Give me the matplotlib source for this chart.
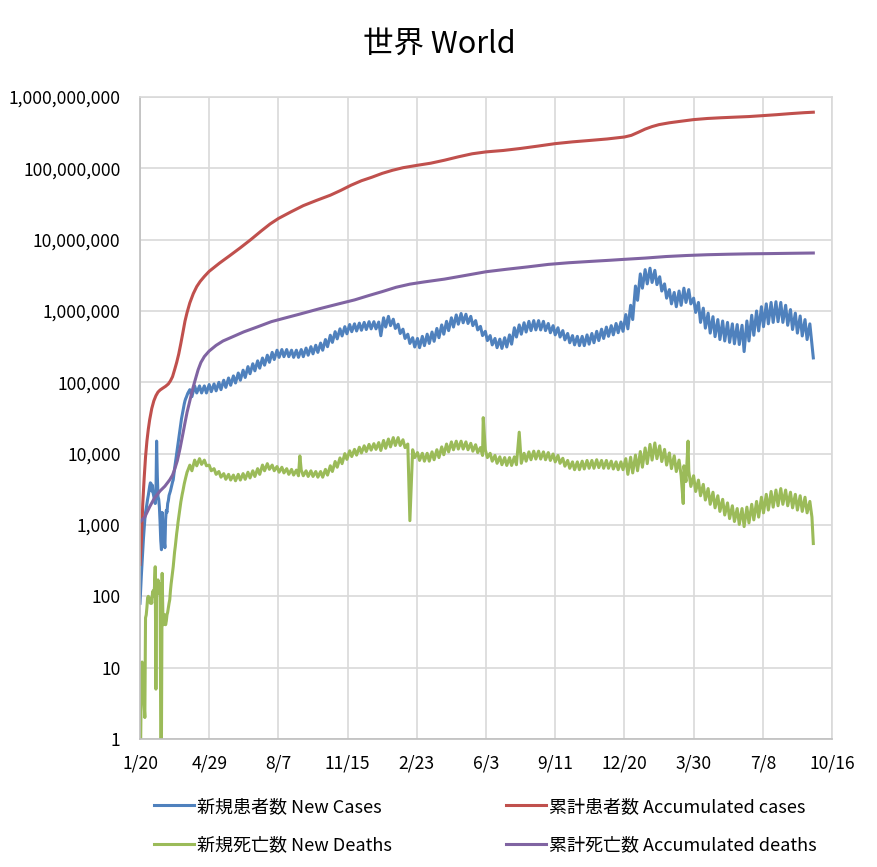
import numpy as np
import pandas as pd
import matplotlib
matplotlib.use("Agg")
import matplotlib.pyplot as plt
from matplotlib.ticker import FixedLocator, FuncFormatter, NullLocator

plt.rcParams['font.family'] = ['Noto Sans CJK JP', 'DejaVu Sans']

start = pd.Timestamp("2020-01-20")

# daily values for the first 70 days (1/20/2020 .. 3/29/2020)
early_cases = [80, 130, 200, 300, 450, 650, 900, 1200, 1500, 1700,
               2000, 2300, 2600, 3000, 3500, 3900, 3800, 3000, 3600, 2800,
               2500, 2200, 2000, 2500, 15000, 5000, 2500, 2300, 1800, 1100,
               600, 450, 1500, 900, 1000, 600, 480, 1200, 1600, 1500,
               2000, 2200, 2600, 2800, 3000, 3300, 3600, 4000, 4300, 5200,
               6200, 7300, 8500, 10000, 12000, 14000, 16500, 19500, 23000, 27000,
               31000, 35000, 40000, 45000, 50000, 55000, 59000, 62000, 66000, 70000]
early_deaths = [1, 1, 8, 12, 10, 6, 3, 2, 50, 55,
                70, 95, 100, 90, 85, 80, 95, 80, 110, 120,
                100, 140, 260, 5, 140, 120, 170, 110, 130, 150,
                1, 1, 210, 60, 40, 50, 55, 40, 45, 55,
                60, 70, 80, 90, 120, 150, 180, 220, 260, 330,
                420, 500, 620, 760, 900, 1100, 1300, 1550, 1800, 2100,
                2400, 2700, 3000, 3400, 3800, 4200, 4600, 5000, 5500, 5800]

# from 3/30/2020 on: one weekday high and one weekend low per week
weekly_start = pd.Timestamp("2020-03-30")
cases_hi = [79000, 89000, 89000, 89000, 93000, 95000, 100000, 107000, 115000, 123000,
            135000, 148000, 166000, 182000, 200000, 219000, 240000, 263000, 282000, 288000,
            288000, 282000, 282000, 288000, 302000, 316000, 331000, 355000, 398000, 457000,
            513000, 562000, 603000, 646000, 661000, 676000, 692000, 708000, 708000, 700000,
            803000, 841000, 767000, 653000, 556000, 473000, 422000, 412000, 441000, 473000,
            507000, 569000, 638000, 716000, 803000, 881000, 922000, 901000, 841000, 733000,
            609000, 519000, 452000, 412000, 403000, 422000, 462000, 582000, 638000, 684000,
            716000, 733000, 733000, 716000, 668000, 623000, 582000, 531000, 484000, 452000,
            441000, 441000, 462000, 484000, 519000, 556000, 595000, 623000, 668000, 700000,
            891000, 1202000, 2239000, 3311000, 3802000, 3981000, 3715000, 3020000, 2399000, 1995000,
            1820000, 1905000, 2089000, 1995000, 1514000, 1318000, 1096000, 933000, 832000, 758000,
            724000, 692000, 660000, 645000, 631000, 724000, 871000, 1000000, 1148000, 1259000,
            1318000, 1349000, 1318000, 1202000, 1047000, 933000, 851000, 758000, 660000]
cases_lo = [63000, 71000, 71000, 71000, 74000, 76000, 79000, 85000, 91000, 98000,
            107000, 117000, 132000, 145000, 158000, 174000, 191000, 209000, 224000, 229000,
            229000, 224000, 224000, 229000, 240000, 251000, 263000, 282000, 316000, 363000,
            407000, 447000, 479000, 513000, 525000, 537000, 550000, 562000, 562000, 450000,
            596000, 624000, 569000, 484000, 412000, 351000, 313000, 306000, 327000, 351000,
            376000, 422000, 473000, 531000, 596000, 653000, 684000, 669000, 624000, 543000,
            452000, 385000, 335000, 306000, 299000, 313000, 343000, 432000, 473000, 507000,
            531000, 543000, 543000, 531000, 496000, 463000, 432000, 394000, 359000, 335000,
            327000, 327000, 343000, 359000, 385000, 412000, 442000, 463000, 496000, 519000,
            562000, 759000, 1412000, 2089000, 2399000, 2512000, 2344000, 1905000, 1514000, 1259000,
            1148000, 1202000, 1318000, 1259000, 955000, 692000, 575000, 490000, 437000, 398000,
            380000, 363000, 347000, 339000, 270000, 380000, 457000, 525000, 603000, 661000,
            692000, 708000, 692000, 631000, 550000, 490000, 447000, 398000, 347000]
deaths_hi = [6900, 8120, 8510, 8120, 6900, 6160, 5620, 5250, 5130, 5010,
             5130, 5250, 5490, 5750, 6160, 6920, 7240, 6920, 6600, 6450,
             6160, 6020, 5890, 5890, 5750, 5750, 5620, 5620, 6020, 6760,
             7760, 8710, 10000, 10960, 11480, 12300, 12880, 13480, 13800, 14290,
             15310, 16040, 16790, 16790, 15660, 13640, 11350, 10350, 10120, 10120,
             10590, 11350, 12440, 13640, 14620, 14960, 14960, 14620, 13960, 13340,
             12170, 11350, 10120, 9440, 9020, 8810, 8810, 9020, 9440, 10120,
             10590, 10840, 10840, 10590, 10350, 9890, 9440, 8610, 8030, 7670,
             7670, 7850, 8030, 8030, 8220, 8030, 8030, 7850, 7670, 7670,
             8510, 8910, 9550, 10710, 12020, 13490, 14120, 12880, 11480, 10230,
             9330, 8130, 6760, 5750, 4900, 4260, 3710, 3240, 2880, 2570,
             2290, 2040, 1860, 1700, 1700, 1780, 1950, 2140, 2450, 2690,
             2950, 3090, 3240, 3090, 2880, 2690, 2570, 2450, 2140]
deaths_lo = [5760, 6760, 7080, 6760, 5760, 5130, 4680, 4370, 4270, 4170,
             4270, 4370, 4570, 4790, 5130, 5760, 6030, 5760, 5500, 5370,
             5130, 5010, 4900, 4900, 4790, 4790, 4680, 4680, 5010, 5630,
             6460, 7250, 8320, 9120, 9550, 10240, 10720, 11220, 11490, 11090,
             11890, 12450, 13030, 13030, 12160, 10590, 8810, 8040, 7850, 7850,
             8220, 8810, 9660, 10590, 11350, 11610, 11610, 11350, 10840, 10350,
             9440, 8810, 7850, 7330, 7000, 6840, 6840, 7000, 7330, 7850,
             8220, 8410, 8410, 8220, 8040, 7670, 7330, 6680, 6240, 5960,
             5960, 6100, 6240, 6240, 6380, 6240, 6240, 6100, 5960, 5960,
             5130, 5370, 5760, 6460, 7250, 8130, 8510, 7760, 6920, 6170,
             5620, 4900, 4070, 3470, 2950, 2570, 2240, 1950, 1740, 1550,
             1380, 1230, 1120, 1020, 950, 1070, 1180, 1290, 1480, 1620,
             1780, 1860, 1950, 1860, 1740, 1620, 1550, 1480, 1290]

last_date = pd.Timestamp("2022-09-19")
last_cases = 220000
last_deaths = 550

# one-day spikes / dips in reported deaths (days after 1/20/2020)
death_spike_days = [231, 390, 496, 548, 785, 792]
death_spike_vals = [9300, 1150, 32000, 20000, 2000, 15000]

# cumulative totals (days after 1/20/2020)
cum_cases_days = [0, 2, 4, 6, 8, 10, 12, 14, 17, 20, 23, 26, 29, 33, 37, 41, 44, 47, 50, 53,
                  56, 59, 62, 65, 68, 72, 77, 82, 87, 93, 100, 115, 130, 145, 160, 175, 188, 200, 218, 236,
                  255, 275, 290, 305, 320, 335, 350, 365, 380, 400, 420, 440, 460, 480, 500, 525, 550, 575, 600, 625,
                  650, 675, 700, 710, 720, 730, 740, 750, 765, 780, 800, 820, 840, 860, 880, 900, 920, 940, 960, 973]
cum_cases = [280, 600, 2000, 4500, 9000, 15000, 22000, 30000, 43000, 55000,
             65000, 73000, 78000, 83000, 88000, 95000, 105000, 120000, 150000, 190000,
             250000, 350000, 500000, 720000, 950000, 1300000, 1750000, 2200000, 2600000, 3050000,
             3600000, 4700000, 6000000, 7700000, 10000000, 13200000, 16600000, 19800000, 24500000, 30000000,
             35500000, 42000000, 49000000, 58000000, 67000000, 75000000, 85000000, 94000000, 102000000, 110000000,
             118000000, 130000000, 145000000, 160000000, 170000000, 178000000, 190000000, 205000000, 222000000, 235000000,
             246000000, 258000000, 275000000, 290000000, 320000000, 355000000, 385000000, 410000000, 435000000, 455000000,
             482000000, 500000000, 512000000, 522000000, 532000000, 548000000, 565000000, 585000000, 603000000, 612000000]
cum_deaths_days = [0, 7, 14, 21, 29, 36, 43, 47, 50, 54, 58, 62, 65, 68, 72, 76, 80, 84, 88, 93,
                   100, 110, 120, 135, 150, 170, 190, 210, 230, 260, 290, 310, 330, 350, 370, 390, 410, 440, 470, 500,
                   530, 560, 590, 620, 650, 680, 700, 730, 760, 790, 820, 850, 880, 910, 940, 973]
cum_deaths = [1100, 1300, 1800, 2400, 3000, 3500, 4300, 5000, 6000, 8000,
              12000, 19000, 27000, 38000, 55000, 80000, 110000, 150000, 190000, 230000,
              275000, 330000, 380000, 440000, 510000, 600000, 710000, 800000, 900000, 1080000,
              1280000, 1430000, 1640000, 1870000, 2150000, 2380000, 2550000, 2800000, 3150000, 3550000,
              3850000, 4150000, 4500000, 4750000, 4950000, 5150000, 5300000, 5520000, 5800000, 6000000,
              6150000, 6250000, 6330000, 6380000, 6440000, 6500000]

labels = ["新規患者数 New Cases", "累計患者数 Accumulated cases",
          "新規死亡数 New Deaths", "累計死亡数 Accumulated deaths"]
colors = ["#4F81BD", "#C0504D", "#9BBB59", "#8064A2"]


def daily_series(early, hi, lo, last, spike_days=(), spike_vals=()):
    s = pd.Series(early, index=pd.date_range(start, periods=len(early)), dtype=float)
    wk = pd.date_range(weekly_start, periods=len(hi), freq="7D")
    parts = [s,
             pd.Series(hi, index=wk + pd.Timedelta(days=2), dtype=float),
             pd.Series(lo, index=wk + pd.Timedelta(days=5), dtype=float),
             pd.Series([last], index=[last_date], dtype=float)]
    s = pd.concat(parts)
    for d, v in zip(spike_days, spike_vals):
        s.loc[start + pd.Timedelta(days=d)] = v
    return s.sort_index()


new_cases = daily_series(early_cases, cases_hi, cases_lo, last_cases)
new_deaths = daily_series(early_deaths, deaths_hi, deaths_lo, last_deaths,
                          death_spike_days, death_spike_vals)
acc_cases = pd.Series(cum_cases, index=start + pd.to_timedelta(cum_cases_days, unit="D"))
acc_deaths = pd.Series(cum_deaths, index=start + pd.to_timedelta(cum_deaths_days, unit="D"))

fig = plt.figure(figsize=(8.78, 8.67), dpi=100)
ax = fig.add_axes([140 / 878, 1 - 739 / 867, 692 / 878, 642 / 867])

lines = []
for s, c, lab in zip([new_cases, acc_cases, new_deaths, acc_deaths], colors, labels):
    ln, = ax.plot(s.index, s.values, color=c, lw=2.2, label=lab, solid_joinstyle="round")
    lines.append(ln)

ax.set_yscale("log")
ax.set_ylim(1, 1e9)
ax.yaxis.set_major_locator(FixedLocator([10.0 ** k for k in range(10)]))
ax.yaxis.set_minor_locator(NullLocator())
ax.yaxis.set_major_formatter(FuncFormatter(lambda v, p: f"{v:,.0f}"))

xt = pd.date_range(start, periods=11, freq="100D")
ax.set_xlim(xt[0], xt[-1])
ax.set_xticks(xt)
ax.set_xticklabels([f"{d.month}/{d.day}" for d in xt])
ax.xaxis.set_minor_locator(NullLocator())

ax.grid(True, color="#D9D9D9", lw=1.2)
ax.set_axisbelow(True)
for side in ["top", "right"]:
    ax.spines[side].set_color("#D9D9D9")
for side in ["left", "bottom"]:
    ax.spines[side].set_color("#BFBFBF")
for sp in ax.spines.values():
    sp.set_linewidth(1.2)
ax.tick_params(axis="both", length=0, labelsize=12.6, colors="black")
ax.tick_params(axis="x", pad=11)
ax.tick_params(axis="y", pad=14)

fig.text(0.5, 1 - 45 / 867, "世界 World", ha="center", va="center", fontsize=22)

order = [0, 2, 1, 3]
fig.legend([lines[i] for i in order], [labels[i] for i in order], ncol=2,
           loc="center", bbox_to_anchor=(0.553, 1 - 826 / 867), frameon=False,
           fontsize=13, handlelength=2.2, handletextpad=0.2, columnspacing=6.3,
           labelspacing=1.15)

fig.savefig("out.png", dpi=100)
